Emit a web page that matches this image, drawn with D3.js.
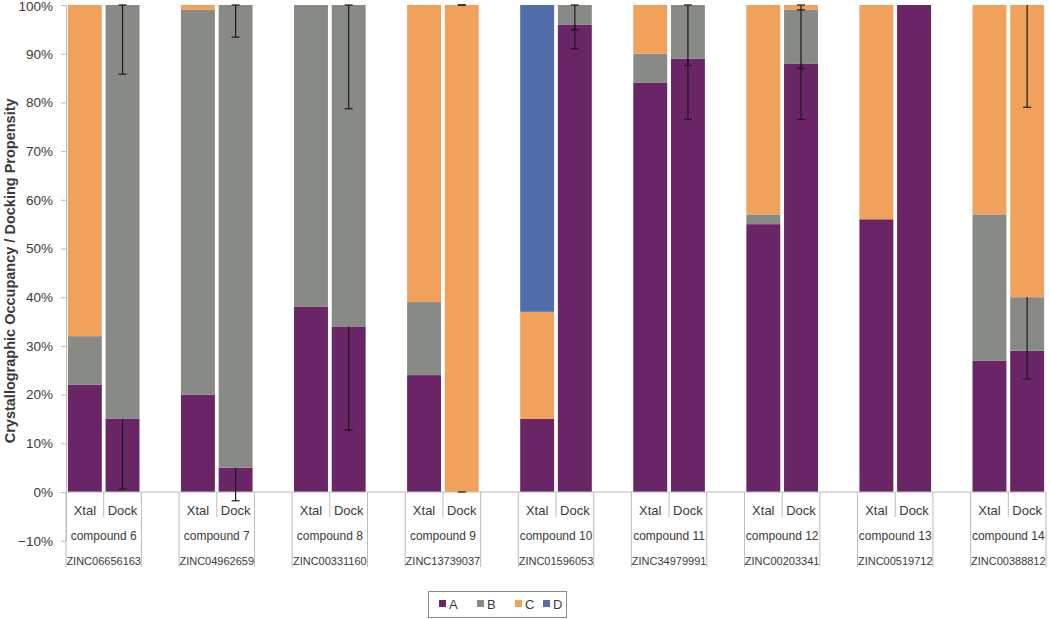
<!DOCTYPE html>
<html>
<head>
<meta charset="utf-8">
<script src="https://cdn.jsdelivr.net/npm/d3@7"></script>
<style>
  html, body { margin: 0; padding: 0; background: #fff; }
  svg { display: block; }
  text { font-family: "Liberation Sans", Arial, sans-serif; fill: #3a3a3a; }
</style>
</head>
<body>
<svg id="chart" width="1050" height="619"></svg>
<script>
// ---------------- data ----------------
const compounds = ["compound 6","compound 7","compound 8","compound 9","compound 10","compound 11","compound 12","compound 13","compound 14"];
const zincIds = ["ZINC06656163","ZINC04962659","ZINC00331160","ZINC13739037","ZINC01596053","ZINC34979991","ZINC00203341","ZINC00519712","ZINC00388812"];
const subLabels = ["Xtal","Dock"];
const seriesNames = ["A","B","C","D"];
const seriesColors = ["#692565","#888a86","#f0a25c","#4f6eab"];
const yTicks = [-0.1,0,0.1,0.2,0.3,0.4,0.5,0.6,0.7,0.8,0.9,1.0];

// Xtal (crystallographic occupancy, %)
const xtalA = [22,20,38,24,15,84,55,56,27];
const xtalB = [10,79,62,15,0,6,2,0,30];
const xtalC = [68,1,0,61,22,10,43,44,43];
const xtalD = [0,0,0,0,63,0,0,0,0];
// Dock (docking propensity, %)
const dockA = [15,5,34,0,96,89,88,100,29];
const dockB = [85,95,66,0,4,11,11,0,11];
const dockC = [0,0,0,100,0,0,1,0,60];
const dockD = [0,0,0,0,0,0,0,0,0];
// Dock error bars: minus error (percentage points below each segment's top); null = none
const dockErrA = [14.4,6.8,21.3,0,5,12.5,11.5,null,null];
const dockErrB = [14.2,6.6,21.3,null,5.1,12.4,12,null,16.8];
const dockErrC = [null,null,null,0,null,null,1,null,21];
const dockErrD = [null,null,null,null,null,null,null,null,null];
// cap drawn at 100% on the top error bar
const dockTopCap = [1,1,1,1,1,1,1,1,0];

// ---------------- layout ----------------
const svg = d3.select("#chart");
const plotLeft = 66, plotRight = 1046;
const nSlots = compounds.length * 3 - 1;

const x = d3.scaleBand()
  .domain(d3.range(nSlots))
  .range([plotLeft, plotRight])
  .paddingInner(0.1)
  .paddingOuter(0.05);
const step = x.step();
const slotStart = i => x(i) - step * 0.05;

const y = d3.scaleLinear().domain([-0.1, 1]).range([540.7, 5]);

// rows
const xtal = [xtalA, xtalB, xtalC, xtalD];
const dock = [dockA, dockB, dockC, dockD];
const dockErr = [dockErrA, dockErrB, dockErrC, dockErrD];
const rows = [];
compounds.forEach((c, g) => {
  const rx = {slot: 3*g, g, kind: "Xtal"};
  const rd = {slot: 3*g+1, g, kind: "Dock"};
  seriesNames.forEach((s, k) => { rx[s] = xtal[k][g]/100; rd[s] = dock[k][g]/100; });
  rows.push(rx, rd);
});

const stacked = d3.stack().keys(seriesNames)(rows);

// bars
svg.append("g").selectAll("g")
  .data(stacked)
  .join("g")
  .attr("fill", (d, i) => seriesColors[i])
  .selectAll("rect")
  .data(d => d.filter(p => p[1] - p[0] > 0))
  .join("rect")
  .attr("x", p => x(p.data.slot))
  .attr("width", x.bandwidth())
  .attr("y", p => y(p[1]))
  .attr("height", p => y(p[0]) - y(p[1]));

// y axis
const yAxis = d3.axisLeft(y)
  .tickValues(yTicks)
  .tickFormat(d3.format(".0%"))
  .tickSize(5)
  .tickSizeOuter(0)
  .tickPadding(8);
const ya = svg.append("g").attr("transform", `translate(${plotLeft},0)`).call(yAxis);
ya.select(".domain").attr("stroke", "#bcbcbc");
ya.selectAll(".tick line").attr("stroke", "#bcbcbc");
ya.selectAll(".tick text").style("font-size", "13.5px").style("font-family", "'Liberation Sans', Arial, sans-serif").attr("fill", "#3a3a3a")
  .attr("dy", d => d === 1 ? "0.42em" : "0.32em");

// category axis lines
const axisG = svg.append("g").attr("stroke", "#bcbcbc").attr("stroke-width", 1);
const y0 = y(0), longBottom = 567, shortBottom = 517;
axisG.append("line").attr("x1", plotLeft).attr("x2", plotRight).attr("y1", y0).attr("y2", y0);
compounds.forEach((c, g) => {
  const left = slotStart(3*g), mid = slotStart(3*g+1), right = slotStart(3*g+1) + step;
  axisG.append("line").attr("x1", left).attr("x2", left).attr("y1", y0).attr("y2", longBottom);
  axisG.append("line").attr("x1", right).attr("x2", right).attr("y1", y0).attr("y2", longBottom);
  axisG.append("line").attr("x1", mid).attr("x2", mid).attr("y1", y0).attr("y2", shortBottom);
});

// category labels
const labG = svg.append("g").attr("text-anchor", "middle").style("font-size", "13px");
compounds.forEach((c, g) => {
  subLabels.forEach((s, j) => {
    labG.append("text").attr("x", x(3*g+j) + x.bandwidth()/2).attr("y", 515).text(s);
  });
  const cx = (slotStart(3*g) + slotStart(3*g+1) + step) / 2;
  labG.append("text").attr("x", cx).attr("y", 540).style("font-size", "12px").text(c);
  labG.append("text").attr("x", cx).attr("y", 565).style("font-size", "11px").text(zincIds[g]);
});

// error bars (Dock)
const errG = svg.append("g").attr("stroke", "#1a1a1a").attr("stroke-width", 1.2);
const capW = 4;
compounds.forEach((c, g) => {
  const rowIdx = 2*g + 1;
  const cx = x(3*g+1) + x.bandwidth()/2;
  let topSeries = -1;
  seriesNames.forEach((s, k) => { if (dockErr[k][g] !== null) topSeries = k; });
  seriesNames.forEach((s, k) => {
    const e = dockErr[k][g];
    if (e === null) return;
    const top = stacked[k][rowIdx][1];
    const low = top - e/100;
    errG.append("line").attr("x1", cx).attr("x2", cx).attr("y1", y(top)).attr("y2", y(low));
    errG.append("line").attr("x1", cx - capW).attr("x2", cx + capW).attr("y1", y(low)).attr("y2", y(low));
    if (k === topSeries && dockTopCap[g] && top >= 0.999) {
      errG.append("line").attr("x1", cx - capW).attr("x2", cx + capW).attr("y1", y(top)).attr("y2", y(top));
    }
  });
});

// y axis title
svg.append("text")
  .attr("transform", `translate(15,${(y(1)+y(-0.1))/2 - 2}) rotate(-90)`)
  .attr("text-anchor", "middle")
  .style("font-size", "14.5px")
  .style("font-weight", "bold")
  .attr("fill", "#111")
  .text("Crystallographic Occupancy / Docking Propensity");

// legend
const leg = svg.append("g");
leg.append("rect").attr("x", 428.5).attr("y", 591.5).attr("width", 138).attr("height", 26)
  .attr("fill", "#fff").attr("stroke", "#8a8a8a").attr("stroke-width", 1);
const legX = [439, 477, 515, 543];
seriesNames.forEach((s, k) => {
  leg.append("rect").attr("x", legX[k]).attr("y", 600).attr("width", 7).attr("height", 7).attr("fill", seriesColors[k]);
  leg.append("text").attr("x", legX[k] + 10).attr("y", 609).style("font-size", "13px").attr("fill", "#222").text(s);
});
</script>
</body>
</html>
